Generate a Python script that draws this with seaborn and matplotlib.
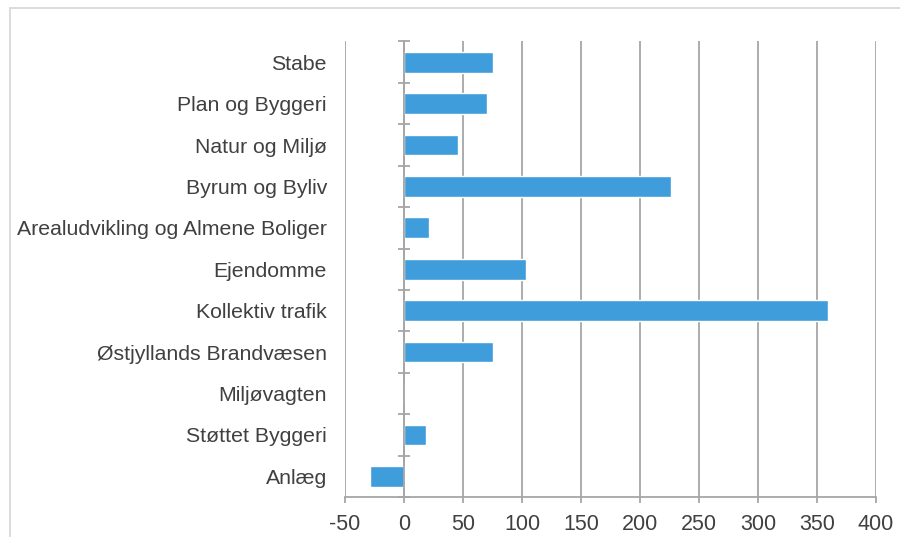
import numpy as np
import pandas as pd
import matplotlib
matplotlib.use('Agg')
import matplotlib.pyplot as plt
from matplotlib.patches import Rectangle
import seaborn as sns

categories = ["Stabe", "Plan og Byggeri", "Natur og Miljø", "Byrum og Byliv",
              "Arealudvikling og Almene Boliger", "Ejendomme", "Kollektiv trafik",
              "Østjyllands Brandvæsen", "Miljøvagten", "Støttet Byggeri", "Anlæg"]
values = [75, 70, 46, 226, 21, 103, 359, 75, 0, 19, -29]
x_ticks = [-50, 0, 50, 100, 150, 200, 250, 300, 350, 400]

df = pd.DataFrame({"afdeling": categories, "beloeb": values})

sns.set_theme(style="white")
plt.rcParams['font.family'] = ['Liberation Sans', 'DejaVu Sans']
plt.rcParams['axes.unicode_minus'] = False

grey = "#a6a6a6"
text_col = "#404040"

fig = plt.figure(figsize=(9, 5.37), dpi=100)
ax = fig.add_axes([345 / 900, 1 - 497 / 537, 531 / 900, 455.5 / 537])

sns.barplot(data=df, x="beloeb", y="afdeling", orient="h", color="#3f9ddb",
            saturation=1, width=0.5, ax=ax, zorder=3)

ax.set_xlim(-50, 400)
ax.set_xticks(x_ticks)
ax.set_ylim(len(categories) - 0.5, -0.5)
ax.set_xlabel("")
ax.set_ylabel("")
ax.xaxis.grid(True, color=grey, lw=1.3, zorder=0)
ax.set_axisbelow(True)
for side in ["top", "right", "left"]:
    ax.spines[side].set_visible(False)
ax.spines["bottom"].set_color(grey)
ax.spines["bottom"].set_linewidth(1.3)
ax.tick_params(axis="x", bottom=True, length=4.5, width=1.3, color=grey,
               labelsize=15.5, labelcolor=text_col, pad=7.5)
ax.tick_params(axis="y", left=False, length=0, labelsize=15.3,
               labelcolor=text_col, pad=13)

# value axis at zero with tick marks between categories
ax2 = ax.twinx()
ax2.set_ylim(ax.get_ylim())
ax2.set_yticks(np.arange(-0.5, len(categories)))
ax2.yaxis.set_ticks_position("left")
ax2.spines["left"].set_position(("data", 0))
ax2.spines["left"].set_color(grey)
ax2.spines["left"].set_linewidth(1.3)
for side in ["top", "right", "bottom"]:
    ax2.spines[side].set_visible(False)
ax2.tick_params(axis="y", direction="inout", length=9, width=1.3,
                color=grey, labelleft=False, labelright=False)

fig.add_artist(Rectangle((10 / 900, -0.1), 1.2, 1.1 - 8 / 537,
                         transform=fig.transFigure, fill=False,
                         edgecolor="#d9d9d9", lw=1.3))

plt.savefig("out.png", dpi=100)
